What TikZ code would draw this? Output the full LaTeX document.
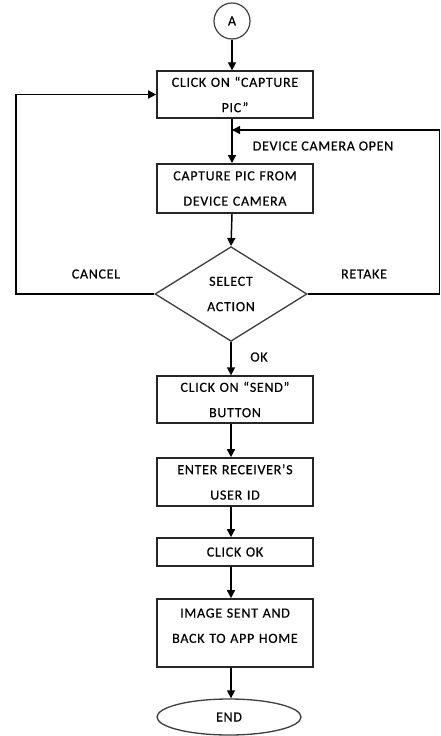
\documentclass[tikz,border=0pt]{standalone}
\usepackage{fontspec}
\setmainfont{Carlito}[LetterSpace=5,FakeBold=0.4]
\usetikzlibrary{arrows.meta,shapes.geometric}

\begin{document}
\begin{tikzpicture}[
  x=0.75pt,y=-0.75pt,
  flowbox/.style={draw=black!85,line width=1.2pt,fill=white,
    minimum width=117pt,text width=114pt,align=center,inner sep=1pt,
    font=\fontsize{10.5}{19}\selectfont},
  flowdecision/.style={diamond,draw=black!75,line width=1pt,
    minimum width=114pt,minimum height=71pt,inner sep=0pt,align=center,
    font=\fontsize{10.5}{19}\selectfont},
  flowterm/.style={ellipse,draw=black!75,line width=1pt,
    minimum width=108pt,minimum height=27pt,font=\fontsize{10.5}{12}\selectfont},
  flowlabel/.style={font=\fontsize{10.5}{12}\selectfont},
  flowarrow/.style={-{Triangle[length=6pt,width=6pt]},line width=1.1pt}
]
  \useasboundingbox (0,0) rectangle (440,736);

  \node[circle,draw=black!75,line width=0.9pt,minimum size=27pt,inner sep=0pt,
    font=\fontsize{10.5}{12}\selectfont] (start) at (232,21) {A};
  \node[flowbox,minimum height=35pt] (capclick) at (235,94.5)
    {CLICK ON ``CAPTURE\\PIC''};
  \node[flowbox,minimum height=37pt] (capcam) at (235,188.5)
    {CAPTURE PIC FROM\\DEVICE CAMERA};
  \node[flowdecision] (select) at (231,294) {SELECT\\ACTION};
  \node[flowbox,minimum height=35pt] (send) at (235,399.5)
    {CLICK ON ``SEND''\\BUTTON};
  \node[flowbox,minimum height=36pt] (receiver) at (235,482)
    {ENTER RECEIVER'S\\USER ID};
  \node[flowbox,minimum height=21pt] (clickok) at (235,552) {CLICK OK};
  \node[flowbox,minimum height=51pt] (home) at (235,633)
    {IMAGE SENT AND\\BACK TO APP HOME\\[-8pt]\mbox{}};
  \node[flowterm] (finish) at (229,717) {END};

  \node[flowlabel] (cancellbl) at (96,274) {CANCEL};
  \node[flowlabel] (retakelbl) at (364,274) {RETAKE};
  \node[flowlabel] (openlbl) at (323,146) {DEVICE CAMERA OPEN};
  \node[flowlabel] (oklbl) at (259,357) {OK};

  \draw[flowarrow] (start) -- (start |- capclick.north);
  \draw[flowarrow] (capclick.south -| start) -- (start |- capcam.north);
  \draw[flowarrow] (capcam.south -| start) -- (select.north);
  \draw[flowarrow] (select.south) -- (select |- send.north);
  \draw[flowarrow] (send.south -| select) -- (select |- receiver.north);
  \draw[flowarrow] (receiver.south -| select) -- (select |- clickok.north);
  \draw[flowarrow] (clickok.south -| select) -- (select |- home.north);
  \draw[flowarrow] (home.south -| select) -- (finish.north -| select);

  % loops back from the decision
  \coordinate (cancelturn) at (16,294);
  \coordinate (retaketurn) at (439.5,294);
  \coordinate (camjoin) at (232,130);
  \draw[flowarrow] (select.west) -- (cancelturn) |- (capclick.west);
  \draw[flowarrow] (select.east) -- (retaketurn) |- (camjoin);
\end{tikzpicture}
\end{document}
